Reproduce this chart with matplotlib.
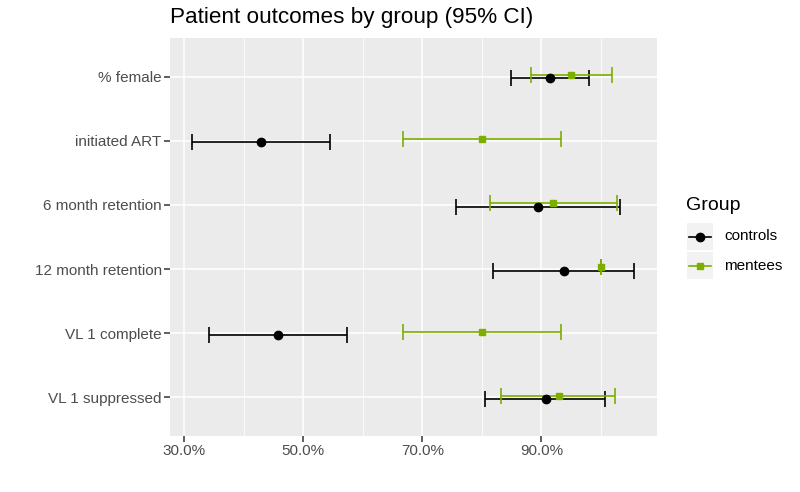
import numpy as np
import matplotlib.pyplot as plt
from matplotlib.lines import Line2D
from matplotlib.patches import Rectangle
from matplotlib.ticker import FuncFormatter, FixedLocator

plt.rcParams['font.family'] = ['Liberation Sans', 'DejaVu Sans']

# outcomes, top to bottom
outcomes = ['% female', 'initiated ART', '6 month retention',
            '12 month retention', 'VL 1 complete', 'VL 1 suppressed']

# controls: estimate and 95% CI (percent)
ctrl_est = [91.4, 42.9, 89.5, 93.8, 45.7, 90.7]
ctrl_lo = [84.9, 31.3, 75.7, 81.9, 34.2, 80.5]
ctrl_hi = [98.0, 54.5, 103.3, 105.6, 57.4, 100.7]

# mentees
ment_est = [95.0, 80.0, 92.0, 100.0, 80.0, 92.9]
ment_lo = [88.2, 66.8, 81.4, 100.0, 66.8, 83.3]
ment_hi = [101.8, 93.3, 102.7, 100.0, 93.3, 102.4]

groups = ['controls', 'mentees']
green = '#7CAE00'
panel_bg = '#EBEBEB'

fig = plt.figure(figsize=(8, 4.92), dpi=100)
ax = fig.add_axes([0.2125, 0.1138, 0.6085, 0.809])
ax.set_facecolor(panel_bg)

ypos = np.arange(len(outcomes))[::-1]
dodge = 0.025

def draw(est, lo, hi, offset, color, marker, ms):
    est = np.array(est)
    err = [est - np.array(lo), np.array(hi) - est]
    ax.errorbar(est, ypos + offset, xerr=err, fmt='none', ecolor=color,
                elinewidth=1.2, capsize=6, capthick=1.2, zorder=3)
    ax.plot(est, ypos + offset, linestyle='none', marker=marker, color=color,
            markersize=ms, zorder=4)

draw(ctrl_est, ctrl_lo, ctrl_hi, -dodge, 'black', 'o', 6)
draw(ment_est, ment_lo, ment_hi, dodge, green, 's', 4.8)

ax.set_xlim(27.6, 109.4)
ax.set_ylim(-0.6, len(outcomes) - 0.4)
ax.xaxis.set_major_locator(FixedLocator([30, 50, 70, 90]))
ax.xaxis.set_minor_locator(FixedLocator([40, 60, 80, 100]))
ax.xaxis.set_major_formatter(FuncFormatter(lambda v, p: f'{v:.1f}%'))
ax.set_yticks(ypos)
ax.set_yticklabels(outcomes)

ax.grid(which='major', color='white', lw=1.1)
ax.grid(which='minor', axis='x', color='white', lw=0.55)
ax.set_axisbelow(True)
for s in ax.spines.values():
    s.set_visible(False)
ax.tick_params(which='major', length=4, width=1.1, color='#333333',
               labelcolor='#4D4D4D', labelsize=11, pad=2)
ax.tick_params(which='minor', length=0)

fig.text(0.2125, 0.965, 'Patient outcomes by group (95% CI)', fontsize=16.2,
         color='black', va='center', ha='left')

# legend with grey key boxes, ggplot style
W, H = 800, 492
fig.text(686 / W, 1 - 205 / H, 'Group', fontsize=14, va='center', ha='left')
styles = [('black', 'o', 6), (green, 's', 4.8)]
for i, (name, (c, m, ms)) in enumerate(zip(groups, styles)):
    top = 223 + i * 29
    fig.patches.append(Rectangle((687 / W, 1 - (top + 27) / H), 26 / W, 27 / H,
                                 transform=fig.transFigure, facecolor='#F2F2F2',
                                 edgecolor='none'))
    yc = 1 - (top + 13.5) / H
    fig.lines.append(Line2D([689 / W, 711 / W], [yc, yc], color=c, lw=1.2,
                            transform=fig.transFigure))
    fig.lines.append(Line2D([700 / W], [yc], color=c, marker=m, ms=ms,
                            transform=fig.transFigure))
    fig.text(724 / W, yc, name, fontsize=11, va='center', ha='left')

fig.savefig('out.png', dpi=100)
